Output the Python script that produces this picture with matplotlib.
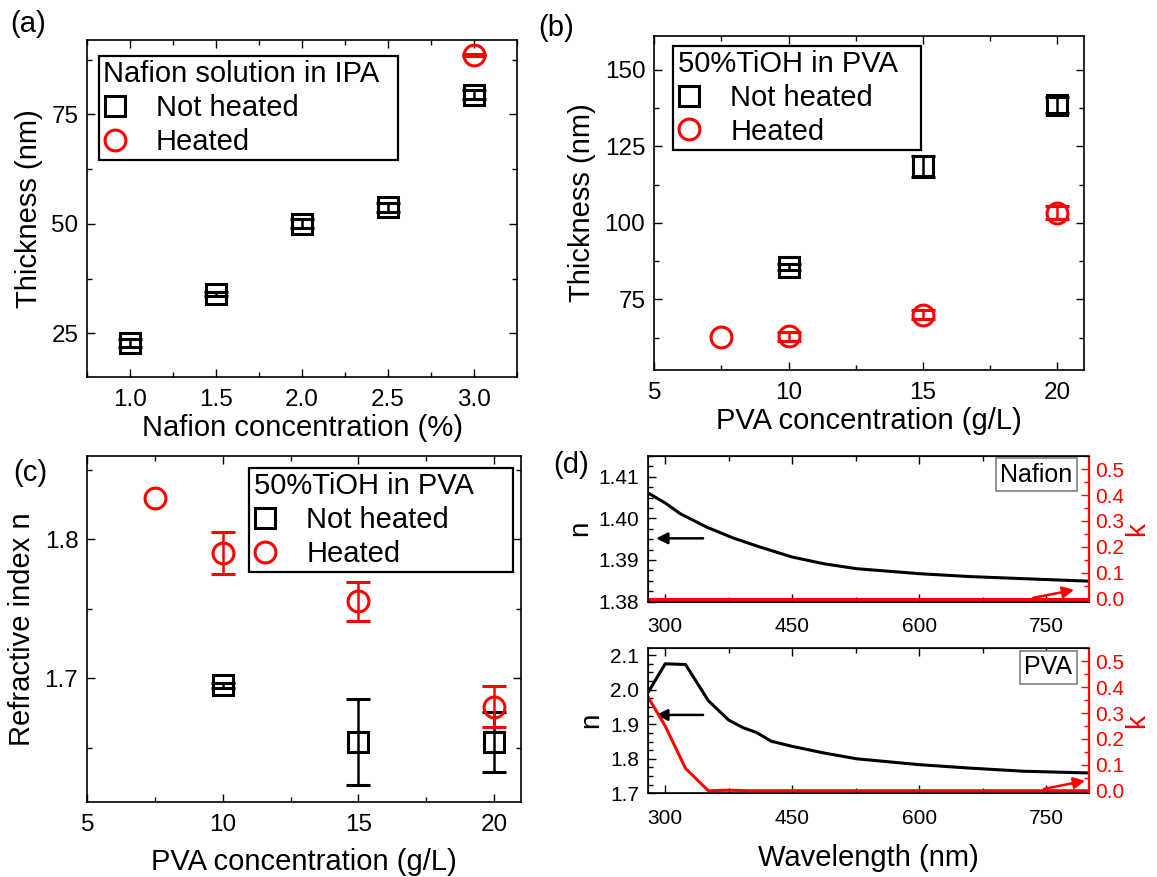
import matplotlib.pyplot as plt
from matplotlib.lines import Line2D
from matplotlib.ticker import MultipleLocator, FormatStrFormatter

plt.rcParams["font.family"] = ["Liberation Sans", "DejaVu Sans"]

nan = float("nan")

# (a) Nafion solution in IPA: thickness vs concentration
naf_conc = [1.0, 1.5, 2.0, 2.5, 3.0]
naf_thick = [22.9, 34.0, 50.1, 53.8, 79.5]
naf_thick_err = [0.9, 0.5, 1.0, 1.0, 1.0]
naf_heat_conc = [3.0]
naf_heat_thick = [88.6]
naf_heat_err = [0.3]

# (b) 50%TiOH in PVA: thickness vs concentration
pva_conc = [10, 15, 20]
pva_thick = [85.7, 118.5, 138.5]
pva_thick_err = [1.0, 3.4, 2.6]
pva_heat_conc = [7.5, 10, 15, 20]
pva_heat_thick = [62.8, 62.9, 70.0, 103.3]
pva_heat_err = [nan, 1.5, 1.5, 2.1]

# (c) refractive index vs concentration
pva_n = [1.695, 1.6545, 1.6545]
pva_n_err = [0.002, 0.031, 0.0216]
pva_heat_n = [1.830, 1.7904, 1.7554, 1.6796]
pva_heat_n_err = [nan, 0.0152, 0.0141, 0.0149]

# (d) dispersion curves
naf_wl = [280, 300, 318, 349, 380, 412, 450, 487, 526, 600, 660, 723, 800]
naf_nd = [1.4061, 1.4037, 1.4011, 1.3979, 1.3953, 1.3931, 1.3907,
          1.3891, 1.3879, 1.3867, 1.3860, 1.3855, 1.3849]
naf_k_wl = [280, 800]
naf_k = [0.0, 0.0]
pva_wl = [280, 300, 324, 351, 375, 392, 408, 425, 450, 487, 526, 600,
          660, 723, 800]
pva_nd = [1.993, 2.075, 2.073, 1.968, 1.912, 1.890, 1.876, 1.851, 1.836,
          1.817, 1.800, 1.783, 1.773, 1.764, 1.759]
pva_k_wl = [280, 300, 324, 351, 375, 400, 800]
pva_k = [0.36, 0.25, 0.086, 0.0, 0.002, 0.0, 0.0]

RED = "#ff0000"
TICK_FS = 17.5
LABEL_FS = 21
LEG_FS = 21


def style_axis(ax, fs=TICK_FS, xpad=8.5, ypad=6.5):
    ax.tick_params(which="both", direction="in", top=True, right=True,
                   labelsize=fs, width=1.0)
    ax.tick_params(which="major", length=6)
    ax.tick_params(which="minor", length=3.5)
    ax.tick_params(axis="x", which="both", pad=xpad)
    ax.tick_params(axis="y", which="both", pad=ypad)
    for s in ax.spines.values():
        s.set_linewidth(1.2)


def draw_points(ax, x, y, err, marker, color):
    ax.errorbar(x, y, yerr=err, fmt=marker, ms=15, mfc="none", mec=color,
                mew=2.2, ecolor=color, elinewidth=1.8, capsize=8.5,
                capthick=1.8, ls="none")


def add_legend(ax, title, x0, width, top):
    handles = [
        Line2D([], [], marker="s", ls="none", ms=14, mfc="none", mec="k", mew=2.2),
        Line2D([], [], marker="o", ls="none", ms=15, mfc="none", mec=RED, mew=2.2),
    ]
    leg = ax.legend(handles, ["Not heated", "Heated"], title=title,
                    loc="upper left", bbox_to_anchor=(x0, 0, width, top),
                    mode="expand", borderaxespad=0, fontsize=LEG_FS,
                    title_fontsize=LEG_FS, alignment="left", fancybox=False,
                    edgecolor="k", framealpha=1, handlelength=0.8,
                    handletextpad=1.0, labelspacing=0.2, borderpad=0.15)
    leg.get_frame().set_linewidth(1.6)


fig = plt.figure(figsize=(11.57, 8.77), dpi=100)

# (a)
ax_a = fig.add_axes([0.0755, 0.5698, 0.3711, 0.3846])
draw_points(ax_a, naf_conc, naf_thick, naf_thick_err, "s", "k")
draw_points(ax_a, naf_heat_conc, naf_heat_thick, naf_heat_err, "o", RED)
ax_a.set_xlim(0.75, 3.25)
ax_a.set_ylim(15, 92)
ax_a.xaxis.set_major_locator(MultipleLocator(0.5))
ax_a.xaxis.set_minor_locator(MultipleLocator(0.25))
ax_a.xaxis.set_major_formatter(FormatStrFormatter("%.1f"))
ax_a.yaxis.set_major_locator(MultipleLocator(25))
ax_a.yaxis.set_minor_locator(MultipleLocator(12.5))
ax_a.set_xlabel("Nafion concentration (%)", fontsize=LABEL_FS, labelpad=2)
ax_a.set_ylabel("Thickness (nm)", fontsize=LABEL_FS, labelpad=6)
style_axis(ax_a)
add_legend(ax_a, "Nafion solution in IPA", 0.0265, 0.6977, 0.9535)

# (b)
ax_b = fig.add_axes([0.5655, 0.5781, 0.3714, 0.3809])
draw_points(ax_b, pva_conc, pva_thick, pva_thick_err, "s", "k")
draw_points(ax_b, pva_heat_conc, pva_heat_thick, pva_heat_err, "o", RED)
ax_b.set_xlim(5, 21)
ax_b.set_ylim(51.9, 161.1)
ax_b.xaxis.set_major_locator(MultipleLocator(5))
ax_b.xaxis.set_minor_locator(MultipleLocator(2.5))
ax_b.yaxis.set_major_locator(MultipleLocator(25))
ax_b.yaxis.set_minor_locator(MultipleLocator(12.5))
ax_b.set_xlabel("PVA concentration (g/L)", fontsize=LABEL_FS, labelpad=2)
ax_b.set_ylabel("Thickness (nm)", fontsize=LABEL_FS, labelpad=6)
style_axis(ax_b)
add_legend(ax_b, "50%TiOH in PVA", 0.0442, 0.5764, 0.971)

# (c)
ax_c = fig.add_axes([0.0755, 0.0855, 0.3748, 0.3945])
draw_points(ax_c, pva_conc, pva_n, pva_n_err, "s", "k")
draw_points(ax_c, pva_heat_conc, pva_heat_n, pva_heat_n_err, "o", RED)
ax_c.set_xlim(5, 21)
ax_c.set_ylim(1.611, 1.860)
ax_c.xaxis.set_major_locator(MultipleLocator(5))
ax_c.xaxis.set_minor_locator(MultipleLocator(2.5))
ax_c.yaxis.set_major_locator(MultipleLocator(0.1))
ax_c.yaxis.set_minor_locator(MultipleLocator(0.05))
ax_c.yaxis.set_major_formatter(FormatStrFormatter("%.1f"))
ax_c.set_xlabel("PVA concentration (g/L)", fontsize=LABEL_FS, labelpad=9)
ax_c.set_ylabel("Refractive index n", fontsize=LABEL_FS, labelpad=6)
style_axis(ax_c)
add_legend(ax_c, "50%TiOH in PVA", 0.3735, 0.6087, 0.966)


# (d)
def dispersion(rect, wl, nd, kwl, kk, nlim, nstep, nfmt, name, arrow_n, arrow_k):
    ax = fig.add_axes(rect)
    ax.plot(wl, nd, color="k", lw=2.2)
    ax.set_xlim(280, 800)
    ax.set_ylim(*nlim)
    ax.xaxis.set_major_locator(MultipleLocator(150))
    ax.xaxis.set_minor_locator(MultipleLocator(75))
    ax.yaxis.set_major_locator(MultipleLocator(nstep))
    ax.yaxis.set_minor_locator(MultipleLocator(nstep / 4))
    ax.yaxis.set_major_formatter(FormatStrFormatter(nfmt))
    ax.set_ylabel("n", fontsize=20, labelpad=4)
    style_axis(ax, 15, xpad=11, ypad=6.5)
    ax.tick_params(which="both", right=False)
    ax.annotate("", xy=(286, arrow_n), xytext=(348, arrow_n),
                arrowprops=dict(arrowstyle="-|>", color="k", lw=1.8,
                                mutation_scale=17))
    ax.text(0.963, 0.953, name, transform=ax.transAxes, ha="right", va="top",
            fontsize=18, bbox=dict(boxstyle="square,pad=0.18", fc="white",
                                   ec="#808080", lw=1.2))

    tw = ax.twinx()
    tw.plot(kwl, kk, color=RED, lw=2.2)
    tw.set_ylim(-0.01, 0.55)
    tw.yaxis.set_major_locator(MultipleLocator(0.1))
    tw.yaxis.set_minor_locator(MultipleLocator(0.05))
    tw.yaxis.set_major_formatter(FormatStrFormatter("%.1f"))
    tw.tick_params(which="both", direction="in", colors=RED, labelsize=15,
                   width=1.0, pad=4.5)
    tw.tick_params(which="major", length=6)
    tw.tick_params(which="minor", length=3.5)
    tw.spines["right"].set_color(RED)
    tw.spines["right"].set_linewidth(1.6)
    tw.set_ylabel("k", fontsize=20, color=RED, labelpad=0)
    tw.annotate("", xy=(arrow_k[2], arrow_k[3]), xytext=(arrow_k[0], arrow_k[1]),
                arrowprops=dict(arrowstyle="-|>", color=RED, lw=1.8,
                                mutation_scale=17))
    return ax


ax_d1 = dispersion([0.5603, 0.3141, 0.3807, 0.1659], naf_wl, naf_nd,
                   naf_k_wl, naf_k, (1.38, 1.415), 0.01, "%.2f", "Nafion",
                   1.3952, (731, 0.002, 786, 0.037))
ax_d2 = dispersion([0.5603, 0.0954, 0.3807, 0.1654], pva_wl, pva_nd,
                   pva_k_wl, pva_k, (1.7, 2.12), 0.1, "%.1f", "PVA",
                   1.927, (744, 0.005, 799, 0.041))
ax_d2.set_xlabel("Wavelength (nm)", fontsize=LABEL_FS, labelpad=12)

fig.text(0.0086, 0.9726, "(a)", fontsize=21, va="center")
fig.text(0.465, 0.9686, "(b)", fontsize=21, va="center")
fig.text(0.0112, 0.4607, "(c)", fontsize=21, va="center")
fig.text(0.478, 0.4698, "(d)", fontsize=21, va="center")

fig.savefig("out.png", dpi=100)
